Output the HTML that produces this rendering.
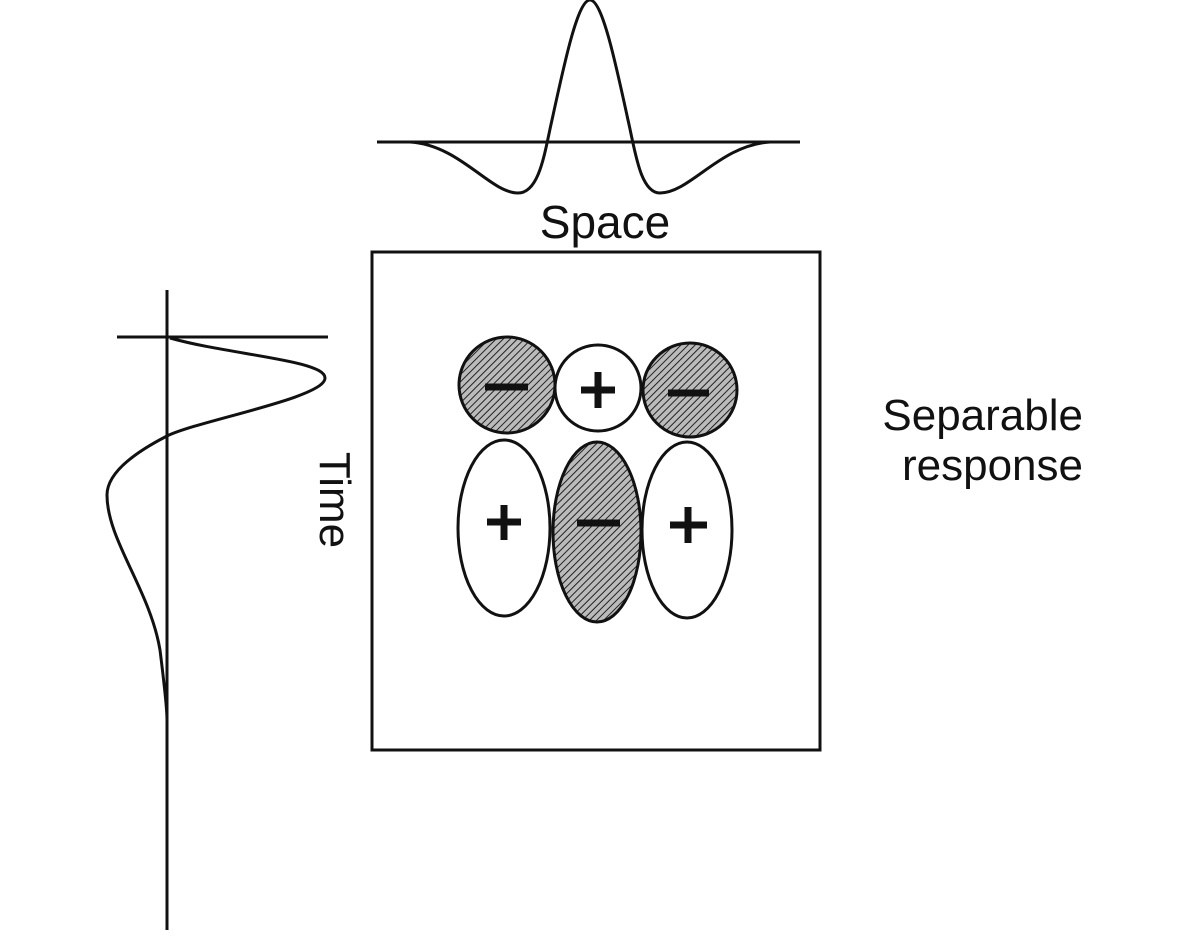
<!DOCTYPE html>
<html><head><style>body{margin:0;background:#fff}svg{display:block}</style></head><body>
<svg width="1202" height="942" viewBox="0 0 1202 942" xmlns="http://www.w3.org/2000/svg">
<defs>
<pattern id="h" width="5" height="5" patternUnits="userSpaceOnUse" patternTransform="rotate(45)">
<rect width="5" height="5" fill="#bbb"/><line x1="0" y1="0" x2="0" y2="5" stroke="#222" stroke-width="2"/>
</pattern>
</defs>
<g fill="none" stroke="#111" stroke-width="3">
<line x1="377" y1="142" x2="800" y2="142"/>
<path d="M410 142 C460 145 490 193 518 193 C540 193 545 150 552 120 C565 60 578 0 590 0 C602 0 615 60 628 120 C635 150 640 193 660 193 C690 193 720 145 770 142"/>
<line x1="167" y1="290" x2="167" y2="930"/>
<line x1="117" y1="337" x2="328" y2="337"/>
<path d="M170 338 C230 355 325 360 325 378 C325 398 200 420 167 436 C130 455 107 475 107 495 C107 540 150 590 160 650 C165 690 167 710 167 720"/>
<rect x="372" y="252" width="448" height="498" stroke-width="3"/>
</g>
<g stroke="#111" stroke-width="3">
<ellipse cx="507" cy="385" rx="48" ry="48" fill="url(#h)"/>
<ellipse cx="690" cy="390" rx="47" ry="47" fill="url(#h)"/>
<ellipse cx="598" cy="388" rx="43" ry="43" fill="#fff"/>
<ellipse cx="504" cy="528" rx="46" ry="88" fill="#fff"/>
<ellipse cx="687" cy="530" rx="45" ry="88" fill="#fff"/>
<ellipse cx="597" cy="532" rx="44" ry="90" fill="url(#h)"/>
</g>
<g stroke="#111" stroke-width="7">
<line x1="485" y1="387" x2="528" y2="387"/>
<line x1="668" y1="393" x2="709" y2="393"/>
<line x1="577" y1="523" x2="620" y2="523"/>
<line x1="581" y1="390" x2="615" y2="390"/><line x1="598" y1="372" x2="598" y2="408"/>
<line x1="487" y1="522" x2="521" y2="522"/><line x1="504" y1="505" x2="504" y2="540"/>
<line x1="670" y1="525" x2="707" y2="525"/><line x1="688" y1="507" x2="688" y2="543"/>
</g>
<g font-family="Liberation Sans, sans-serif" font-size="44" fill="#111">
<text x="605" y="238" text-anchor="middle" font-size="46">Space</text>
<text x="1083" y="430" text-anchor="end">Separable</text>
<text x="1083" y="480" text-anchor="end">response</text>
<text transform="translate(320,500) rotate(90)" text-anchor="middle">Time</text>
</g>
</svg>
</body></html>
